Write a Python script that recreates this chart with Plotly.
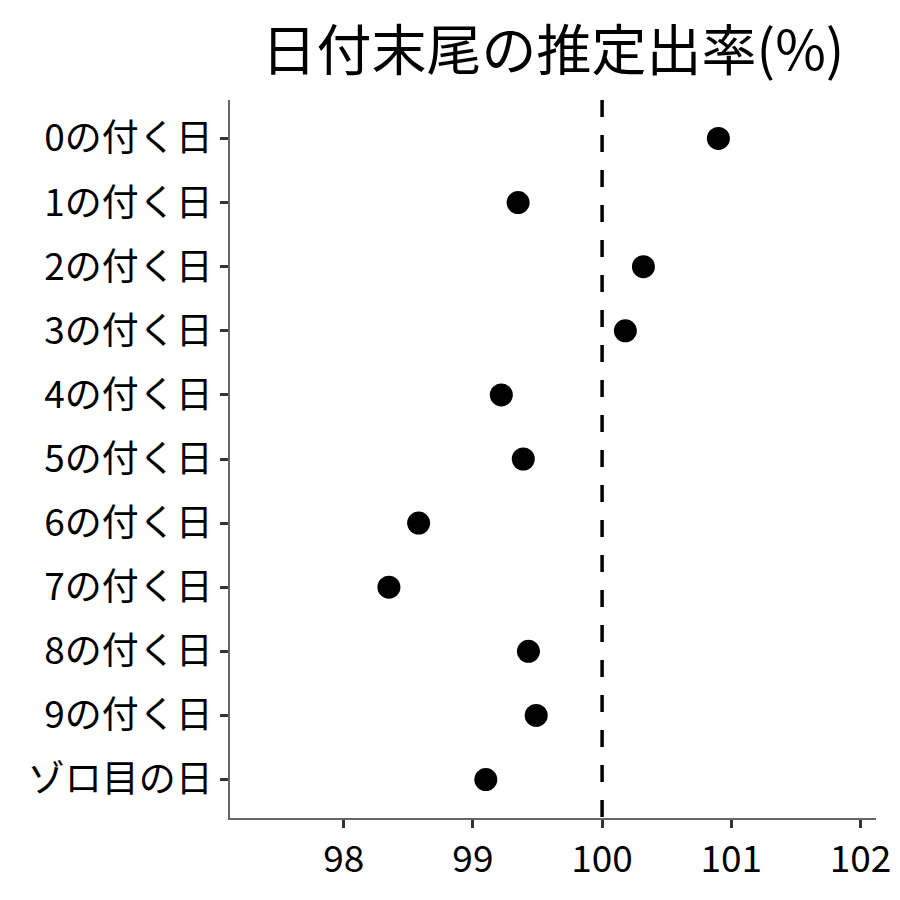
import plotly.graph_objects as go

categories = ["0の付く日", "1の付く日", "2の付く日", "3の付く日", "4の付く日",
              "5の付く日", "6の付く日", "7の付く日", "8の付く日", "9の付く日", "ゾロ目の日"]
values = [100.90, 99.35, 100.32, 100.18, 99.22, 99.39, 98.58, 98.35, 99.43, 99.49, 99.10]
ref_value = 100
x_ticks = [98, 99, 100, 101, 102]
title_text = "日付末尾の推定出率(%)"

FONT = "Noto Sans CJK JP"

fig = go.Figure()
fig.add_trace(go.Scatter(
    x=values, y=categories, mode="markers",
    marker=dict(color="black", size=23),
    showlegend=False, hoverinfo="skip",
))
fig.add_shape(type="line", x0=ref_value, x1=ref_value, xref="x", y0=1, y1=0, yref="paper",
              line=dict(color="black", width=3.5, dash="17px,18px"))

fig.update_layout(
    width=900, height=900,
    plot_bgcolor="white", paper_bgcolor="white",
    margin=dict(l=222, r=32, t=92, b=90),
    font=dict(family=FONT, color="black", size=37),
    title=dict(text=title_text, x=0.6056, xanchor="center", y=0.953, yanchor="middle",
               font=dict(family=FONT, size=55, color="black")),
)
fig.update_xaxes(
    range=[97.12, 102.12], tickvals=x_ticks, ticktext=[str(v) for v in x_ticks],
    showgrid=False, zeroline=False, showline=True, linecolor="#666666", linewidth=1.5,
    ticks="outside", ticklen=8, tickwidth=3, tickcolor="#333333",
    tickfont=dict(size=37, color="black"),
)
fig.update_yaxes(
    categoryorder="array", categoryarray=categories, range=[10.6, -0.6],
    showgrid=False, zeroline=False, showline=True, linecolor="#666666", linewidth=1.5,
    ticks="outside", ticklen=8, tickwidth=3, tickcolor="#333333",
    tickfont=dict(size=37, color="black"),
)
fig.write_html("out.html")
